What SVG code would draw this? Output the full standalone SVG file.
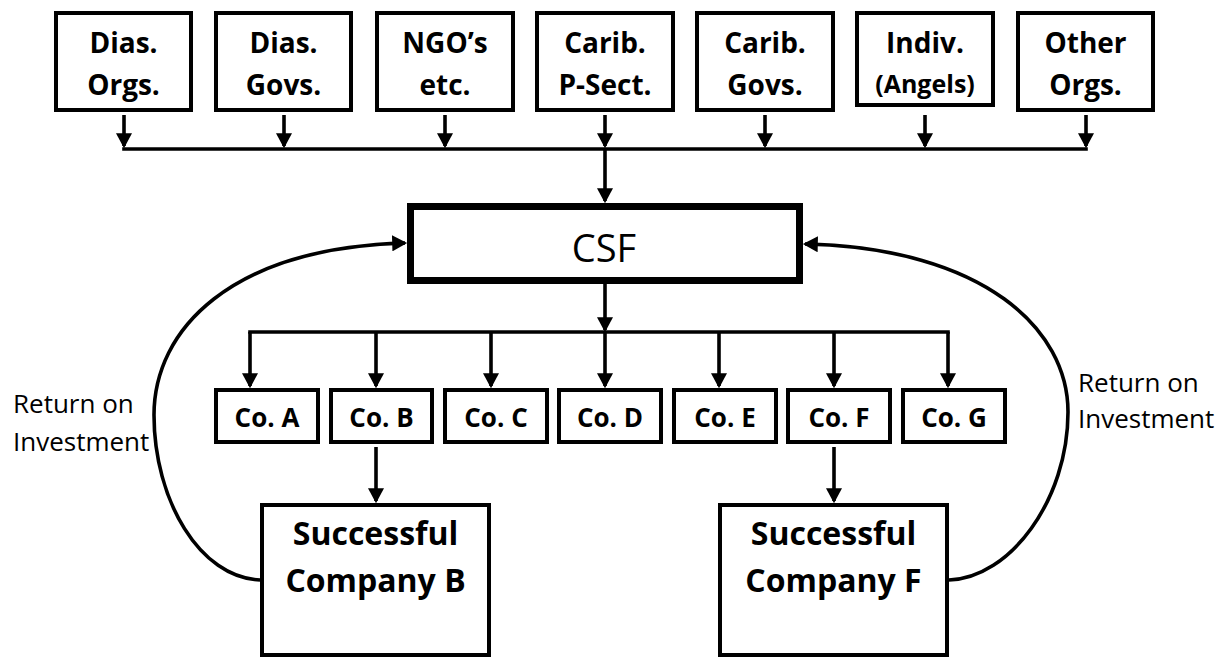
<svg xmlns="http://www.w3.org/2000/svg" width="1225" height="658" viewBox="0 0 1225 658">
<style>
.box{fill:#fff;stroke:#000;stroke-width:4}
.csf{fill:#fff;stroke:#000;stroke-width:7}
.lbl{font-family:"Open Sans","Liberation Sans",sans-serif;font-weight:bold;font-size:28px;text-anchor:middle;fill:#000}
.co{font-family:"Open Sans","Liberation Sans",sans-serif;font-weight:bold;font-size:26px;text-anchor:middle;fill:#000}
.big{font-family:"Open Sans","Liberation Sans",sans-serif;font-weight:bold;font-size:32px;text-anchor:middle;fill:#000}
.reg{font-family:"Open Sans","Liberation Sans",sans-serif;font-size:26px;fill:#000}
.ln{fill:none;stroke:#000;stroke-width:3.6}
.arr{fill:none;stroke:#000;stroke-width:3.6;marker-end:url(#ah)}
</style>
<defs>
<marker id="ah" markerUnits="userSpaceOnUse" markerWidth="16" markerHeight="16" viewBox="0 0 14 15" refX="12" refY="7.5" orient="auto">
<path d="M0,0 L14,7.5 L0,15 z" fill="#000"/>
</marker>
</defs>
<g id="src1"><rect class="box" x="56" y="13" width="135" height="97"/><text class="lbl" x="123.5" y="53">Dias.</text><text class="lbl" x="123.5" y="95">Orgs.</text></g>
<g id="src2"><rect class="box" x="216" y="13" width="135" height="97"/><text class="lbl" x="283.5" y="53">Dias.</text><text class="lbl" x="283.5" y="95">Govs.</text></g>
<g id="src3"><rect class="box" x="377" y="13" width="136" height="97"/><text class="lbl" x="445" y="53">NGO’s</text><text class="lbl" x="445" y="95">etc.</text></g>
<g id="src4"><rect class="box" x="537" y="13" width="136" height="97"/><text class="lbl" x="605" y="53">Carib.</text><text class="lbl" x="605" y="95">P-Sect.</text></g>
<g id="src5"><rect class="box" x="697" y="13" width="136" height="97"/><text class="lbl" x="765" y="53">Carib.</text><text class="lbl" x="765" y="95">Govs.</text></g>
<g id="src6"><rect class="box" x="857" y="13" width="136" height="92"/><text class="lbl" x="925" y="53">Indiv.</text><text class="lbl" x="925" y="93" style="font-size:25px">(Angels)</text></g>
<g id="src7"><rect class="box" x="1018" y="13" width="135" height="97"/><text class="lbl" x="1085.5" y="53">Other</text><text class="lbl" x="1085.5" y="95">Orgs.</text></g>
<g id="csf"><rect class="csf" x="410.5" y="206.5" width="389" height="74"/><text x="604" y="262" style="font-family:'Open Sans','Liberation Sans',sans-serif;font-size:38px;text-anchor:middle">CSF</text></g>
<g id="coA"><rect class="box" x="216" y="390" width="102" height="52"/><text class="co" x="267" y="427">Co. A</text></g>
<g id="coB"><rect class="box" x="331" y="390" width="101" height="52"/><text class="co" x="381.5" y="427">Co. B</text></g>
<g id="coC"><rect class="box" x="445" y="390" width="102" height="52"/><text class="co" x="496" y="427">Co. C</text></g>
<g id="coD"><rect class="box" x="559" y="390" width="102" height="52"/><text class="co" x="610" y="427">Co. D</text></g>
<g id="coE"><rect class="box" x="674" y="390" width="102" height="52"/><text class="co" x="725" y="427">Co. E</text></g>
<g id="coF"><rect class="box" x="788" y="390" width="102" height="52"/><text class="co" x="839" y="427">Co. F</text></g>
<g id="coG"><rect class="box" x="903" y="390" width="102" height="52"/><text class="co" x="954" y="427">Co. G</text></g>
<g id="succB"><rect class="box" x="262" y="505" width="227" height="150"/><text class="big" x="375.5" y="545">Successful</text><text class="big" x="375.5" y="592">Company B</text></g>
<g id="succF"><rect class="box" x="720" y="505" width="227" height="150"/><text class="big" x="833.5" y="545">Successful</text><text class="big" x="833.5" y="592">Company F</text></g>
<g id="roiL"><text class="reg" x="13" y="413">Return on</text><text class="reg" x="13" y="451">Investment</text></g>
<g id="roiR"><text class="reg" x="1078" y="392">Return on</text><text class="reg" x="1078" y="428">Investment</text></g>
<g id="connectors">
<path class="arr" d="M124,115 V146"/>
<path class="arr" d="M284,115 V146"/>
<path class="arr" d="M445,115 V146"/>
<path class="arr" d="M605,115 V146"/>
<path class="arr" d="M765,115 V146"/>
<path class="arr" d="M925,115 V146"/>
<path class="arr" d="M1086,115 V146"/>
<path class="ln" d="M122.2,149 H1087.8"/>
<path class="arr" d="M605,149 V201"/>
<path class="arr" d="M605,284 V330"/>
<path class="ln" d="M248.2,332 H949.8"/>
<path class="arr" d="M250,332 V386"/>
<path class="arr" d="M376,332 V386"/>
<path class="arr" d="M491,332 V386"/>
<path class="arr" d="M605,332 V386"/>
<path class="arr" d="M719,332 V386"/>
<path class="arr" d="M834,332 V386"/>
<path class="arr" d="M948,332 V386"/>
<path class="arr" d="M376,447 V501"/>
<path class="arr" d="M834,447 V501"/>
<path class="arr" d="M260,580 C200,578 154,500 154,415 C154,330 230,248 405,243"/>
<path class="arr" d="M949,580 C1010,578 1068,500 1068,412 C1068,330 985,248 805,244"/>
</g>
</svg>
